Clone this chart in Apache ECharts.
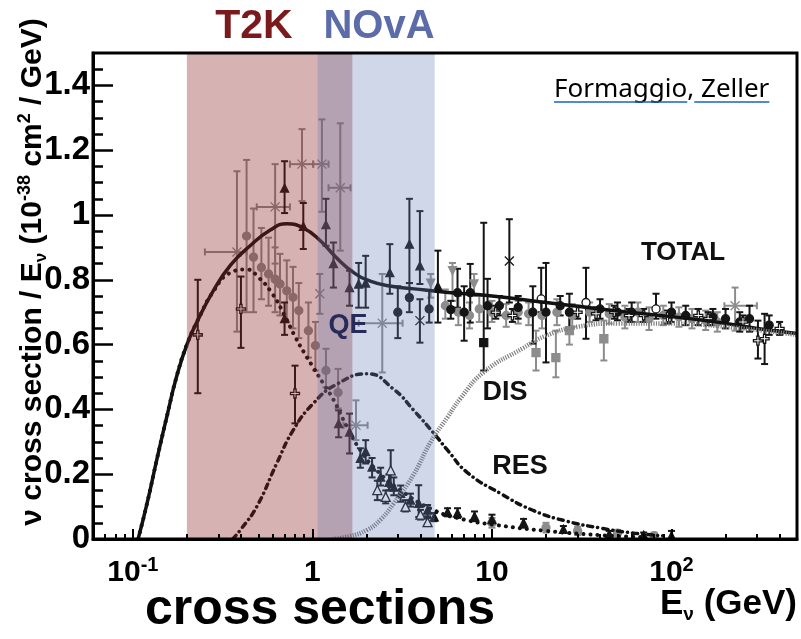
<!DOCTYPE html>
<html><head><meta charset="utf-8">
<script src="https://cdn.jsdelivr.net/npm/echarts@6/dist/echarts.min.js"></script>
<style>html,body{margin:0;padding:0;background:#fff}#c{width:801px;height:639px}</style>
</head><body><div id="c"></div>
<script>
// ---- axis ticks ----
const xTickMajor = [0.1, 1, 10, 100];
const xTickMinor = [0.07, 0.08, 0.09, 0.2, 0.3, 0.4, 0.5, 0.6, 0.7, 0.8, 0.9, 2, 3, 4, 5, 6, 7, 8, 9, 20, 30, 40, 50, 60, 70, 80, 90, 200, 300, 400];
const yTickMajor = [0, 0.2, 0.4, 0.6, 0.8, 1, 1.2, 1.4];
const yTickMinor = [0.05, 0.1, 0.15, 0.25, 0.3, 0.35, 0.45, 0.5, 0.55, 0.65, 0.7, 0.75, 0.85, 0.9, 0.95, 1.05, 1.1, 1.15, 1.25, 1.3, 1.35, 1.45];

// ---- experiment energy bands [Emin, Emax] ----
const t2kBand = [0.2, 1.67];
const novaBand = [1.07, 4.8];

// ---- theory curves [E, sigma/E] ----
const totalCurve = [[0.107,0],[0.12,0.11],[0.136,0.245],[0.155,0.38],[0.175,0.5],[0.2,0.6],[0.23,0.675],[0.28,0.765],[0.35,0.845],[0.45,0.905],[0.58,0.953],[0.72,0.973],[0.89,0.96],[1.1,0.922],[1.35,0.87],[1.7,0.822],[2.1,0.796],[2.7,0.781],[3.7,0.772],[5.7,0.761],[10,0.75],[20,0.73],[40,0.71],[70,0.695],[150,0.675],[300,0.65],[500,0.634]];
const qeCurve = [[0.107,0],[0.12,0.11],[0.136,0.245],[0.155,0.38],[0.175,0.5],[0.2,0.6],[0.23,0.675],[0.28,0.763],[0.35,0.822],[0.43,0.832],[0.5,0.808],[0.6,0.756],[0.7,0.69],[0.8,0.625],[0.9,0.575],[1.01,0.53],[1.15,0.48],[1.31,0.43],[1.56,0.345],[1.85,0.274],[2.3,0.21],[3.1,0.15],[4.75,0.089],[7,0.06],[10,0.045],[20,0.025],[40,0.012],[70,0.006]];
const resCurve = [[0.36,0],[0.4,0.03],[0.49,0.1],[0.635,0.235],[0.78,0.335],[1.01,0.418],[1.37,0.478],[2.02,0.51],[2.84,0.462],[3.67,0.397],[4.75,0.326],[5.66,0.274],[7.3,0.205],[11.2,0.14],[17,0.088],[26,0.055],[40,0.034],[62,0.018],[90,0.01]];
const disCurve = [[1.3,0],[1.6,0.008],[2.02,0.028],[2.4,0.06],[2.84,0.11],[3.67,0.20],[4.56,0.3],[5.66,0.376],[6.7,0.435],[9,0.515],[15,0.59],[19.5,0.625],[30,0.655],[50,0.665],[100,0.665],[200,0.655],[500,0.63]];

// ---- measurements [E, value, errLow, errHigh] ----
const blackTri = [[0.70,1.083,1.006,1.166],[0.89,0.965,0.895,1.037],[1.19,0.97,0.905,1.05],[1.31,0.85,0.776,0.915],[1.61,0.776,0.72,0.828],[1.81,0.787,0.714,0.852],[1.98,0.79,0.714,0.874],[2.70,0.822,0.757,0.91],[3.47,0.91,0.79,1.05],[3.97,0.843,0.787,1.012],[5.0,0.78,0.668,0.89],[0.70,0.68,0.63,0.73],
  [1.40,0.356,0.314,0.397],[1.61,0.33,0.264,0.387],[1.98,0.27,0.233,0.305],[1.85,0.249,0.22,0.28],[2.15,0.222,0.19,0.25],[2.40,0.191,0.165,0.22],[2.67,0.175,0.15,0.20],[2.84,0.16,0.135,0.19],[3.10,0.141,0.115,0.165],[3.52,0.12,0.10,0.14],[3.91,0.11,0.068,0.166],[4.38,0.089,0.07,0.105],[4.77,0.068,0.055,0.08],[5.66,0.083,0.07,0.095],[6.43,0.08,0.065,0.095],[8,0.07,0.055,0.085],[10,0.06,0.045,0.075],[15,0.05,0.035,0.062],[25,0.03,0.02,0.04],[45,0.015,0.005,0.025],[70,0.012,0.003,0.02],[100,0.01,0.0,0.025]];
const blackDot = [[2.99,0.70,0.62,0.78],[3.47,0.745,0.70,0.79],[4.47,0.71,0.668,0.766],[5.9,0.708,0.68,0.735],[6.43,0.76,0.714,0.834],[7.0,0.70,0.612,0.78],[7.57,0.76,0.668,0.849],[9.45,0.72,0.65,0.803],[16.9,0.70,0.603,0.78],[20,0.70,0.545,0.852],[27,0.70,0.64,0.757],[11,0.72,0.69,0.75],[14,0.715,0.68,0.75],[24,0.72,0.69,0.75],[40,0.71,0.68,0.74],[50,0.70,0.675,0.73],[60,0.70,0.67,0.73],[100,0.70,0.67,0.73],[120,0.69,0.66,0.72],[170,0.685,0.66,0.71],[200,0.68,0.65,0.71],[240,0.67,0.64,0.70],[272,0.68,0.64,0.72],[350,0.66,0.63,0.69]];
const blackSq = [[9.0,0.606,0.52,0.976]];
const blackStar = [[12.5,0.858,0.73,0.987],[3.97,0.674,0.606,0.74]];
const openCross = [[0.23,0.63,0.45,0.80],[0.40,0.71,0.59,0.81],[0.80,0.449,0.357,0.535],[303,0.612,0.557,0.674],[330,0.618,0.54,0.695],[10.5,0.70,0.68,0.72],[13,0.69,0.67,0.71],[30,0.70,0.68,0.72],[38,0.695,0.675,0.715],[48,0.70,0.68,0.72],[58,0.69,0.67,0.71],[70,0.69,0.67,0.71],[95,0.685,0.665,0.705],[141,0.69,0.66,0.71],[160,0.68,0.66,0.70],[250,0.67,0.65,0.69],[400,0.65,0.63,0.67]];
const openCircle = [[18.8,0.741,0.70,0.837],[33.4,0.73,0.618,0.837],[82,0.71,0.68,0.757]];
const openTri = [[2.73,0.212,0.16,0.274],[2.30,0.151,0.12,0.18],[4.38,0.052,0.04,0.065],[2.56,0.13,0.11,0.15],[3.3,0.10,0.085,0.12],[4.0,0.075,0.06,0.09]];
const grayDot = [[0.43,0.935,0.70,1.17],[0.47,0.87,0.70,1.02],[0.52,0.838,0.74,0.96],[0.57,0.818,0.72,0.93],[0.62,0.802,0.70,0.90],[0.66,0.787,0.69,0.88],[0.72,0.766,0.67,0.86],[0.78,0.746,0.65,0.84],[0.84,0.705,0.62,0.79],[0.95,0.643,0.56,0.73],[1.04,0.597,0.52,0.67],[1.19,0.52,0.468,0.587],[1.39,0.452,0.403,0.525],
  [5.5,0.72,0.68,0.77],[6.5,0.70,0.66,0.75],[7.5,0.69,0.65,0.73],[8.5,0.71,0.67,0.75],[10,0.70,0.67,0.735],[12,0.69,0.655,0.725],[14,0.70,0.665,0.735],[16,0.695,0.66,0.73],[19,0.69,0.65,0.73],[23,0.70,0.66,0.74],[28,0.69,0.655,0.725],[35,0.70,0.67,0.73],[45,0.695,0.665,0.725],[55,0.685,0.65,0.72],[65,0.70,0.67,0.73],[75,0.68,0.645,0.715],[90,0.69,0.66,0.72],[110,0.685,0.655,0.715],[130,0.68,0.65,0.71],[155,0.675,0.645,0.705],[180,0.67,0.64,0.70],
  [10,0.05,0.035,0.065],[20,0.035,0.02,0.05],[30,0.025,0.012,0.038],[50,0.018,0.008,0.028],[80,0.01,0.0,0.02]];
const grayTriDown = [[4.56,0.79,0.745,0.818],[6.03,0.828,0.735,0.852],[7.95,0.787,0.75,0.818]];
const graySq = [[17.6,0.575,0.52,0.643],[22.7,0.56,0.499,0.643],[27,0.643,0.60,0.69],[42,0.618,0.551,0.674]];
// [E, value, errLow, errHigh, Elow, Ehigh]
const grayCross = [[0.38,0.886,0.64,1.135,0.252,0.43],[0.62,1.025,0.85,1.157,0.49,0.75],[0.875,1.157,1.043,1.265,0.75,1.01],[1.13,1.157,1.01,1.295,1.01,1.23],[1.43,1.084,0.89,1.283,1.23,1.63],[2.45,0.666,0.514,0.818,1.81,3.18],[1.75,0.351,0.305,0.428,1.49,2.03],[1.10,0.757,0.695,0.818,1.10,1.10],[226,0.72,0.643,0.776,197,299]];

// ---- helpers ----
const FONT = '"Liberation Sans", Arial, sans-serif';
function errRender(color, width) {
  return function (params, api) {
    const x = api.value(0), y = api.value(1), lo = api.value(2), hi = api.value(3);
    const a = api.coord([x, lo]), b = api.coord([x, hi]);
    const cap = 3.5;
    const st = { stroke: color, lineWidth: width };
    const ch = [
      { type: 'line', shape: { x1: a[0], y1: a[1], x2: b[0], y2: b[1] }, style: st },
      { type: 'line', shape: { x1: a[0] - cap, y1: a[1], x2: a[0] + cap, y2: a[1] }, style: st },
      { type: 'line', shape: { x1: b[0] - cap, y1: b[1], x2: b[0] + cap, y2: b[1] }, style: st }
    ];
    const xl = api.value(4), xh = api.value(5);
    if (isFinite(xl) && isFinite(xh) && xl !== xh) {
      const c = api.coord([xl, y]), d = api.coord([xh, y]);
      ch.push({ type: 'line', shape: { x1: c[0], y1: c[1], x2: d[0], y2: d[1] }, style: st });
      ch.push({ type: 'line', shape: { x1: c[0], y1: c[1] - cap, x2: c[0], y2: c[1] + cap }, style: st });
      ch.push({ type: 'line', shape: { x1: d[0], y1: d[1] - cap, x2: d[0], y2: d[1] + cap }, style: st });
    }
    return { type: 'group', children: ch };
  };
}
const crossPath = 'path://M3,0 H5 V3 H8 V5 H5 V8 H3 V5 H0 V3 H3 Z';
const xPath = 'path://M0,0 L8,8 M8,0 L0,8';
function groupSeries(name, data, barColor, symbol, fill, stroke, size) {
  return [
    { type: 'custom', name: name + ' err', data: data, renderItem: errRender(barColor, 2), z: 2, silent: true,
      encode: { x: 0, y: 1 } },
    { type: 'scatter', name: name, data: data, symbol: symbol, symbolSize: size || 8, z: 3, silent: true,
      encode: { x: 0, y: 1 },
      itemStyle: { color: fill, borderColor: stroke, borderWidth: 1.3, opacity: 1 } }
  ];
}

const series = [].concat(
  groupSeries('gray', grayDot, '#8c8c8c', 'circle', '#8c8c8c', '#8c8c8c', 8),
  groupSeries('grayTriDown', grayTriDown, '#8c8c8c', 'path://M0,0 L8,0 L4,8 Z', '#8c8c8c', '#8c8c8c', 8),
  groupSeries('graySq', graySq, '#8c8c8c', 'rect', '#8c8c8c', '#8c8c8c', 8),
  groupSeries('grayCross', grayCross, '#8c8c8c', xPath, 'transparent', '#8c8c8c', 9),
  groupSeries('black', blackTri, '#151515', 'triangle', '#151515', '#151515', 8),
  groupSeries('blackDot', blackDot, '#151515', 'circle', '#151515', '#151515', 8),
  groupSeries('blackSq', blackSq, '#151515', 'rect', '#151515', '#151515', 8),
  groupSeries('blackStar', blackStar, '#151515', xPath, 'transparent', '#151515', 9),
  groupSeries('openCross', openCross, '#151515', crossPath, '#ffffff', '#151515', 9),
  groupSeries('openCircle', openCircle, '#151515', 'circle', '#ffffff', '#151515', 8),
  groupSeries('openTri', openTri, '#151515', 'triangle', '#ffffff', '#151515', 9),
  [
    { type: 'line', name: 'TOTAL', data: totalCurve, smooth: 0.5, showSymbol: false, z: 4, silent: true,
      lineStyle: { color: '#111', width: 3.5 } },
    { type: 'line', name: 'QE', data: qeCurve, smooth: 0.5, showSymbol: false, z: 4, silent: true,
      lineStyle: { color: '#111', width: 4, type: [0.1, 7], cap: 'round' } },
    { type: 'line', name: 'RES', data: resCurve, smooth: 0.5, showSymbol: false, z: 4, silent: true,
      lineStyle: { color: '#111', width: 3.5, type: [5, 5, 0.1, 5], cap: 'round' } },
    { type: 'line', name: 'DIS', data: disCurve, smooth: 0.5, showSymbol: false, z: 4, silent: true,
      lineStyle: { color: '#7f7f7f', width: 4.5, type: [1.2, 1.3] } },
    { type: 'custom', name: 'bands', z: 10, silent: true,
      data: [[t2kBand[0], t2kBand[1], 0], [novaBand[0], novaBand[1], 1]],
      encode: { x: [0, 1] },
      renderItem: function (params, api) {
        const p0 = api.coord([api.value(0), 1.5]);
        const p1 = api.coord([api.value(1), 0]);
        const col = api.value(2) === 0 ? 'rgba(141,35,35,0.35)' : 'rgba(98,122,178,0.3)';
        return { type: 'rect', shape: { x: p0[0], y: p0[1], width: p1[0] - p0[0], height: p1[1] - p0[1] }, style: { fill: col } };
      } }
  ]
);

// measure link text widths for underline
const mctx = document.createElement('canvas').getContext('2d');
const LINKSIZE = 26;
mctx.font = LINKSIZE + 'px "Noto Sans"';
const wForm = mctx.measureText('Formaggio').width;
const wComma = mctx.measureText(',').width;
const wSp = mctx.measureText(' ').width;
const wZel = mctx.measureText('Zeller').width;
const linkX = 554, linkY = 90;

const chart = echarts.init(document.getElementById('c'));
chart.setOption({
  animation: false,
  backgroundColor: '#fff',
  grid: { left: 93, right: 4, top: 53, bottom: 100, show: true, borderColor: '#000', borderWidth: 3, backgroundColor: 'transparent', z: 20 },
  xAxis: [
    { type: 'log', logBase: 10, min: 0.06, max: 500, position: 'bottom', z: 20,
      axisLine: { show: true, lineStyle: { color: '#000', width: 3 } },
      axisTick: { show: true, inside: true, length: 10, customValues: xTickMajor, lineStyle: { color: '#000', width: 2 } },
      splitLine: { show: false }, minorTick: { show: false },
      axisLabel: { show: true, customValues: xTickMajor, margin: 16,
        formatter: function (v) {
          if (Math.abs(v - 0.1) < 1e-9) return '{b|10}{s|-1}';
          if (Math.abs(v - 100) < 1e-6) return '{b|10}{s|2}';
          return '{b|' + Math.round(v) + '}';
        },
        rich: {
          b: { fontSize: 30, fontWeight: 'bold', fontFamily: FONT, color: '#000', lineHeight: 36 },
          s: { fontSize: 20, fontWeight: 'bold', fontFamily: FONT, color: '#000', lineHeight: 20, verticalAlign: 'top' }
        } } },
    { type: 'log', logBase: 10, min: 0.06, max: 500, position: 'bottom', z: 20,
      axisLine: { show: false }, splitLine: { show: false }, axisLabel: { show: false },
      axisTick: { show: true, inside: true, length: 5, customValues: xTickMinor, lineStyle: { color: '#000', width: 2 } } }
  ],
  yAxis: [
    { type: 'value', min: 0, max: 1.5, position: 'left', z: 20,
      axisLine: { show: true, lineStyle: { color: '#000', width: 3 } },
      axisTick: { show: true, inside: true, length: 20, customValues: yTickMajor, lineStyle: { color: '#000', width: 2.5 } },
      splitLine: { show: false },
      axisLabel: { show: true, customValues: yTickMajor, margin: 3, fontSize: 33, fontWeight: 'bold', fontFamily: FONT, color: '#000',
        formatter: function (v) { return String(Math.round(v * 10) / 10); } } },
    { type: 'value', min: 0, max: 1.5, position: 'left', z: 20,
      axisLine: { show: false }, splitLine: { show: false }, axisLabel: { show: false },
      axisTick: { show: true, inside: true, length: 10, customValues: yTickMinor, lineStyle: { color: '#000', width: 2.5 } } }
  ],
  graphic: [
    { type: 'text', x: 254, y: 27, z: 100, style: { text: 'T2K', fontSize: 41, fontWeight: 'bold', fontFamily: FONT, fill: '#7B1A1C', align: 'center', verticalAlign: 'middle' } },
    { type: 'text', x: 379, y: 27, z: 100, style: { text: 'NOvA', fontSize: 40, fontWeight: 'bold', fontFamily: FONT, fill: '#5B6CA8', align: 'center', verticalAlign: 'middle' } },
    { type: 'text', x: linkX, y: linkY, z: 100, style: { text: '{a|Formaggio}{c|,}{a| Zeller}', align: 'left', verticalAlign: 'middle',
        rich: { a: { fontSize: LINKSIZE, fontFamily: '"Noto Sans"', color: '#1565C0' }, c: { fontSize: LINKSIZE, fontFamily: '"Noto Sans"', color: '#000' } } } },
    { type: 'line', z: 100, shape: { x1: linkX, y1: linkY + 12, x2: linkX + wForm, y2: linkY + 12 }, style: { stroke: '#1565C0', lineWidth: 1.5 } },
    { type: 'line', z: 100, shape: { x1: linkX + wForm + wComma, y1: linkY + 12, x2: linkX + wForm + wComma + wSp + wZel, y2: linkY + 12 }, style: { stroke: '#1565C0', lineWidth: 1.5 } },
    { type: 'text', x: 683, y: 253, z: 100, style: { text: 'TOTAL', fontSize: 26, fontWeight: 'bold', fontFamily: FONT, fill: '#111', align: 'center', verticalAlign: 'middle' } },
    { type: 'text', x: 348, y: 326, z: 100, style: { text: 'QE', fontSize: 27, fontWeight: 'bold', fontFamily: FONT, fill: '#262b57', align: 'center', verticalAlign: 'middle' } },
    { type: 'text', x: 505, y: 393, z: 100, style: { text: 'DIS', fontSize: 27, fontWeight: 'bold', fontFamily: FONT, fill: '#111', align: 'center', verticalAlign: 'middle' } },
    { type: 'text', x: 320, y: 610, z: 100, style: { text: 'cross sections', fontSize: 50, fontWeight: 'bold', fontFamily: FONT, fill: '#000', align: 'center', verticalAlign: 'middle' } },
    { type: 'text', x: 520, y: 467, z: 100, style: { text: 'RES', fontSize: 27, fontWeight: 'bold', fontFamily: FONT, fill: '#111', align: 'center', verticalAlign: 'middle' } },
    { type: 'text', x: 797, y: 604, z: 100, style: { text: '{n|E}{u|ν}{n| (GeV)}', align: 'right', verticalAlign: 'middle',
        rich: { n: { fontSize: 35, fontWeight: 'bold', fontFamily: FONT, color: '#000', lineHeight: 40 }, u: { fontSize: 19, fontWeight: 'bold', fontFamily: FONT, color: '#000', lineHeight: 19, verticalAlign: 'bottom' } } } },
    { type: 'text', x: 33, y: 272, rotation: Math.PI / 2, z: 100, style: { text: '{n|ν cross section / E}{u|ν}{n| (10}{p|-38}{n| cm}{p|2}{n| / GeV)}', align: 'center', verticalAlign: 'middle',
        rich: { n: { fontSize: 30, fontWeight: 'bold', fontFamily: FONT, color: '#000', lineHeight: 34 },
                u: { fontSize: 17, fontWeight: 'bold', fontFamily: FONT, color: '#000', lineHeight: 17, verticalAlign: 'bottom' },
                p: { fontSize: 18, fontWeight: 'bold', fontFamily: FONT, color: '#000', lineHeight: 18, verticalAlign: 'top' } } } }
  ],
  series: series.map(function (s) { return Object.assign({ xAxisIndex: 0, yAxisIndex: 0 }, s); })
});
</script>
</body></html>
